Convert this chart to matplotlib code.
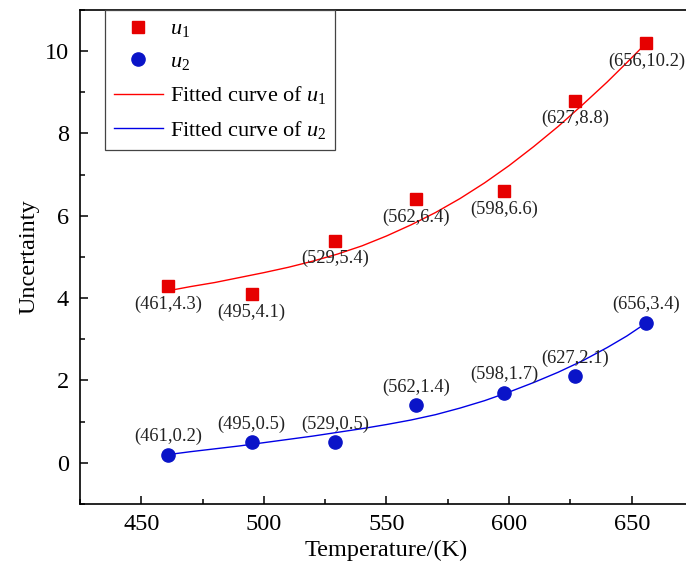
import matplotlib
matplotlib.use('Agg')
import matplotlib.pyplot as plt
from matplotlib.ticker import MultipleLocator

plt.rcParams['font.family'] = ['Liberation Serif', 'DejaVu Serif']
plt.rcParams['mathtext.fontset'] = 'custom'
plt.rcParams['mathtext.rm'] = 'Liberation Serif'
plt.rcParams['mathtext.it'] = 'Liberation Serif:italic'

# measured points
temp = [461, 495, 529, 562, 598, 627, 656]
u1 = [4.3, 4.1, 5.4, 6.4, 6.6, 8.8, 10.2]
u2 = [0.2, 0.5, 0.5, 1.4, 1.7, 2.1, 3.4]

# fitted curves
fit_t = [461, 470, 480, 490, 500, 510, 520, 530, 540, 550, 560, 570, 580,
         590, 600, 610, 620, 630, 640, 648, 656]
fit_u1 = [4.18, 4.28, 4.38, 4.50, 4.62, 4.75, 4.90, 5.07, 5.27, 5.51, 5.78,
          6.08, 6.42, 6.80, 7.22, 7.68, 8.17, 8.70, 9.25, 9.72, 10.20]
fit_u2 = [0.20, 0.27, 0.34, 0.41, 0.49, 0.57, 0.65, 0.74, 0.83, 0.93, 1.04,
          1.17, 1.33, 1.51, 1.72, 1.95, 2.20, 2.48, 2.80, 3.08, 3.40]

red = '#E60000'
blue = '#0A14C8'

fig = plt.figure(figsize=(6.86, 5.70), dpi=100)
ax = fig.add_axes([0.1166, 0.1158, 0.8936, 0.8667])

ax.plot(temp, u1, 's', color=red, markersize=8, label='$u_1$', zorder=3)
ax.plot(temp, u2, 'o', color=blue, markersize=9.5, label='$u_2$', zorder=3)
ax.plot(fit_t, fit_u1, '-', color='#FF0000', lw=1.0, label='Fitted curve of $u_1$')
ax.plot(fit_t, fit_u2, '-', color='#0000E6', lw=1.0, label='Fitted curve of $u_2$')

for x, y in zip(temp, u1):
    ax.annotate(f'({x},{y})', (x, y), xytext=(0, -13), textcoords='offset points',
                ha='center', va='center', fontsize=13.3, color='#222222')
for x, y in zip(temp, u2):
    ax.annotate(f'({x},{y})', (x, y), xytext=(0, 13), textcoords='offset points',
                ha='center', va='center', fontsize=13.3, color='#222222')

ax.set_xlim(425, 675)
ax.set_ylim(-1, 11)
ax.xaxis.set_major_locator(MultipleLocator(50))
ax.xaxis.set_minor_locator(MultipleLocator(25))
ax.yaxis.set_major_locator(MultipleLocator(2))
ax.yaxis.set_minor_locator(MultipleLocator(1))
ax.tick_params(which='both', direction='in', labelsize=17.5, width=1.1)
ax.tick_params(which='major', length=6)
ax.tick_params(which='minor', length=3.5)
ax.tick_params(axis='x', pad=7)
ax.tick_params(axis='y', pad=8)
for s in ax.spines.values():
    s.set_linewidth(1.2)

ax.set_xlabel('Temperature/(K)', fontsize=17.5, labelpad=4)
ax.set_ylabel('Uncertainty', fontsize=17.5, labelpad=4)

leg = ax.legend(loc='upper left', bbox_to_anchor=(0.041, 1.0), borderaxespad=0,
                fontsize=16, fancybox=False, framealpha=1, edgecolor='#444444',
                handlelength=2.2, handletextpad=0.3, labelspacing=0.55, borderpad=0.4)
leg.get_frame().set_linewidth(0.9)

fig.savefig('out.png', dpi=100)
